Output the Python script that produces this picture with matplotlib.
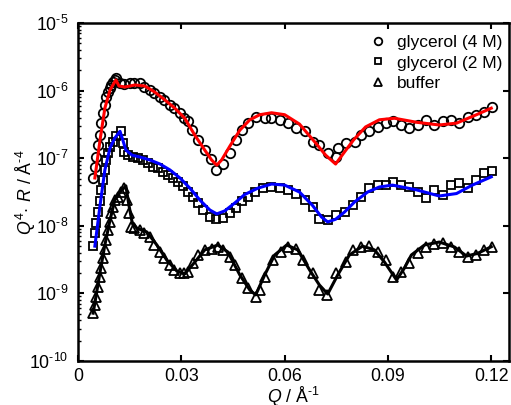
import matplotlib
matplotlib.use("Agg")
import matplotlib.pyplot as plt
import numpy as np
from matplotlib.ticker import LogLocator, NullFormatter, FixedLocator, FuncFormatter

plt.rcParams['font.family'] = 'Liberation Sans'
plt.rcParams['mathtext.fontset'] = 'custom'
plt.rcParams['mathtext.rm'] = 'Liberation Sans'
plt.rcParams['mathtext.it'] = 'Liberation Sans:italic'
plt.rcParams['mathtext.bf'] = 'Liberation Sans:bold'

# reflectivity data, Q^4 * R  (Q in 1/A)
q4 = [0.0044, 0.0048, 0.0053, 0.0058, 0.0063, 0.0068, 0.0073, 0.0077, 0.0082, 0.0087,
      0.0092, 0.0097, 0.0101, 0.0106, 0.0111, 0.0121, 0.0135, 0.0150, 0.0164, 0.0179,
      0.0193, 0.0208, 0.0222, 0.0237, 0.0251, 0.0266, 0.0280, 0.0295, 0.0307, 0.0320,
      0.0330, 0.0349, 0.0368, 0.0385, 0.0402, 0.0421, 0.0441, 0.0460, 0.0475, 0.0494,
      0.0518, 0.0542, 0.0561, 0.0586, 0.0610, 0.0634, 0.0658, 0.0682, 0.0701, 0.0726,
      0.0750, 0.0755, 0.0779, 0.0803, 0.0822, 0.0846, 0.0870, 0.0895, 0.0914, 0.0938,
      0.0962, 0.0986, 0.1011, 0.1035, 0.1059, 0.1083, 0.1107, 0.1131, 0.1156, 0.1180,
      0.1202]
r4 = [5.1e-8, 7.5e-8, 1.05e-7, 1.57e-7, 2.2e-7, 3.3e-7, 4.7e-7, 6.1e-7, 8.1e-7, 9.5e-7,
      1.09e-6, 1.22e-6, 1.35e-6, 1.45e-6, 1.52e-6, 1.28e-6, 1.25e-6, 1.28e-6, 1.31e-6, 1.28e-6,
      1.14e-6, 1.02e-6, 9.1e-7, 8.1e-7, 7.3e-7, 6.1e-7, 5.5e-7, 4.7e-7, 4.0e-7, 3.5e-7,
      2.6e-7, 1.86e-7, 1.32e-7, 9.6e-8, 6.7e-8, 8.2e-8, 1.18e-7, 1.86e-7, 2.6e-7, 3.3e-7,
      4.1e-7, 4.0e-7, 4.0e-7, 3.7e-7, 3.3e-7, 2.8e-7, 2.5e-7, 1.75e-7, 1.57e-7, 1.18e-7,
      1.05e-7, 1.4e-7, 1.66e-7, 1.75e-7, 2.2e-7, 2.5e-7, 2.9e-7, 3.3e-7, 3.5e-7, 3.1e-7,
      2.8e-7, 3.1e-7, 3.7e-7, 3.1e-7, 3.5e-7, 3.7e-7, 3.3e-7, 4.1e-7, 4.4e-7, 4.9e-7,
      5.8e-7]

q2 = [0.0044, 0.0048, 0.0053, 0.0058, 0.0063, 0.0068, 0.0073, 0.0077, 0.0082, 0.0087,
      0.0092, 0.0101, 0.0111, 0.0124, 0.0130, 0.0135, 0.0145, 0.0159, 0.0174, 0.0188,
      0.0203, 0.0217, 0.0232, 0.0246, 0.0261, 0.0275, 0.0290, 0.0304, 0.0320, 0.0334,
      0.0349, 0.0363, 0.0383, 0.0402, 0.0421, 0.0441, 0.0460, 0.0475, 0.0494, 0.0513,
      0.0537, 0.0561, 0.0586, 0.0610, 0.0634, 0.0658, 0.0682, 0.0701, 0.0726, 0.0750,
      0.0774, 0.0798, 0.0822, 0.0846, 0.0870, 0.0895, 0.0914, 0.0938, 0.0962, 0.0986,
      0.1011, 0.1035, 0.1059, 0.1083, 0.1107, 0.1131, 0.1156, 0.1180, 0.1202]
r2 = [5.0e-9, 7.7e-9, 1.09e-8, 1.62e-8, 2.3e-8, 3.4e-8, 4.8e-8, 6.7e-8, 9.4e-8, 1.18e-7,
      1.48e-7, 1.75e-7, 2.1e-7, 2.5e-7, 1.66e-7, 1.25e-7, 1.11e-7, 1.05e-7, 1.0e-7, 9.4e-8,
      8.4e-8, 7.5e-8, 7.1e-8, 6.3e-8, 5.6e-8, 5.1e-8, 4.5e-8, 3.9e-8, 3.2e-8, 2.7e-8,
      2.15e-8, 1.71e-8, 1.36e-8, 1.25e-8, 1.29e-8, 1.53e-8, 1.82e-8, 2.3e-8, 2.7e-8, 3.2e-8,
      3.6e-8, 3.7e-8, 3.6e-8, 3.4e-8, 3.0e-8, 2.4e-8, 1.92e-8, 1.25e-8, 1.22e-8, 1.45e-8,
      1.62e-8, 2.0e-8, 2.7e-8, 3.6e-8, 4.0e-8, 4.0e-8, 4.5e-8, 4.0e-8, 3.8e-8, 3.2e-8,
      2.55e-8, 3.4e-8, 2.9e-8, 4.0e-8, 4.3e-8, 3.6e-8, 4.8e-8, 6.0e-8, 6.5e-8]

qb = [0.0044, 0.0048, 0.0053, 0.0058, 0.0063, 0.0068, 0.0073, 0.0077, 0.0082, 0.0087,
      0.0092, 0.0097, 0.0101, 0.0106, 0.0116, 0.0126, 0.0135, 0.0143, 0.0147, 0.0153,
      0.0164, 0.0179, 0.0193, 0.0208, 0.0222, 0.0237, 0.0251, 0.0266, 0.0280, 0.0295,
      0.0309, 0.0320, 0.0334, 0.0349, 0.0368, 0.0388, 0.0407, 0.0421, 0.0441, 0.0455,
      0.0475, 0.0494, 0.0518, 0.0528, 0.0542, 0.0566, 0.0590, 0.0610, 0.0634, 0.0653,
      0.0682, 0.0701, 0.0723, 0.0750, 0.0779, 0.0798, 0.0822, 0.0846, 0.0870, 0.0895,
      0.0914, 0.0938, 0.0962, 0.0986, 0.1011, 0.1035, 0.1059, 0.1083, 0.1107, 0.1131,
      0.1156, 0.1180, 0.1202]
rb = [5.1e-10, 6.7e-10, 8.9e-10, 1.26e-9, 1.77e-9, 2.35e-9, 3.3e-9, 4.6e-9, 6.2e-9, 8.7e-9,
      1.15e-8, 1.53e-8, 1.92e-8, 2.4e-8, 2.7e-8, 3.2e-8, 3.6e-8, 2.4e-8, 1.53e-8, 9.7e-9,
      9.2e-9, 8.7e-9, 7.7e-9, 6.9e-9, 5.2e-9, 4.1e-9, 3.3e-9, 2.63e-9, 2.2e-9, 1.98e-9,
      1.98e-9, 2.1e-9, 2.8e-9, 3.7e-9, 4.4e-9, 4.6e-9, 4.9e-9, 4.4e-9, 3.5e-9, 2.63e-9,
      1.67e-9, 1.19e-9, 8.8e-10, 1.12e-9, 1.77e-9, 3.1e-9, 4.1e-9, 4.9e-9, 4.6e-9, 3.1e-9,
      1.98e-9, 1.12e-9, 9.5e-10, 1.98e-9, 2.9e-9, 4.4e-9, 4.9e-9, 5.0e-9, 4.1e-9, 3.1e-9,
      1.77e-9, 2.1e-9, 2.8e-9, 3.9e-9, 4.9e-9, 5.3e-9, 5.5e-9, 4.9e-9, 4.1e-9, 3.5e-9,
      3.7e-9, 4.4e-9, 4.9e-9]

# model curves
q4_fit = [0.0049, 0.0064, 0.0078, 0.0093, 0.0110, 0.0119, 0.0136, 0.0165, 0.0194, 0.0223,
          0.0252, 0.0281, 0.0310, 0.0339, 0.0368, 0.0388, 0.0403, 0.0417, 0.0441, 0.0470,
          0.0499, 0.0528, 0.0562, 0.0600, 0.0643, 0.0690, 0.0719, 0.0748, 0.0774, 0.0800,
          0.0835, 0.0875, 0.0919, 0.0983, 0.1049, 0.1099, 0.1157, 0.1200]
r4_fit = [5.1e-8, 1.86e-7, 5.5e-7, 1.02e-6, 1.44e-6, 1.17e-6, 1.13e-6, 1.21e-6, 1.17e-6, 9.5e-7,
          7.3e-7, 5.5e-7, 3.9e-7, 2.2e-7, 1.32e-7, 9.4e-8, 7.9e-8, 9.4e-8, 1.51e-7, 2.6e-7,
          3.7e-7, 4.4e-7, 4.7e-7, 4.4e-7, 3.2e-7, 1.68e-7, 1.11e-7, 8.2e-8, 1.24e-7, 1.86e-7,
          2.9e-7, 3.7e-7, 3.9e-7, 3.4e-7, 3.1e-7, 3.3e-7, 4.4e-7, 5.5e-7]

q2_fit = [0.0049, 0.0064, 0.0078, 0.0093, 0.0107, 0.0122, 0.0130, 0.0139, 0.0157, 0.0180,
          0.0209, 0.0238, 0.0267, 0.0296, 0.0325, 0.0354, 0.0383, 0.0403, 0.0426, 0.0455,
          0.0484, 0.0522, 0.0562, 0.0600, 0.0643, 0.0681, 0.0707, 0.0725, 0.0748, 0.0774,
          0.0803, 0.0841, 0.0875, 0.0913, 0.0983, 0.1049, 0.1099, 0.1145, 0.1200]
r2_fit = [5.0e-9, 2.0e-8, 6.7e-8, 1.42e-7, 1.99e-7, 2.5e-7, 1.86e-7, 1.32e-7, 1.11e-7, 1.04e-7,
          9.4e-8, 8.2e-8, 6.7e-8, 5.1e-8, 3.6e-8, 2.4e-8, 1.71e-8, 1.5e-8, 1.66e-8, 2.17e-8,
          2.9e-8, 3.6e-8, 4.15e-8, 4.0e-8, 3.16e-8, 2.0e-8, 1.35e-8, 1.14e-8, 1.25e-8, 1.6e-8,
          2.25e-8, 3.16e-8, 3.75e-8, 4.0e-8, 3.4e-8, 2.76e-8, 3.0e-8, 4.0e-8, 5.3e-8]

qb_fit = [0.0044, 0.0064, 0.0078, 0.0093, 0.0107, 0.0122, 0.0139, 0.0148, 0.0157, 0.0171,
          0.0200, 0.0229, 0.0258, 0.0287, 0.0310, 0.0339, 0.0368, 0.0406, 0.0435, 0.0470,
          0.0499, 0.0516, 0.0542, 0.0571, 0.0606, 0.0638, 0.0673, 0.0701, 0.0725, 0.0754,
          0.0788, 0.0826, 0.0861, 0.0890, 0.0925, 0.0948, 0.0968, 0.1006, 0.1049, 0.1093,
          0.1128, 0.1160, 0.1200]
rb_fit = [5.1e-10, 2.07e-9, 5.2e-9, 1.22e-8, 2.4e-8, 3.16e-8, 3.9e-8, 2.0e-8, 1.14e-8, 9.2e-9,
          8.1e-9, 5.2e-9, 3.1e-9, 2.14e-9, 1.94e-9, 2.9e-9, 4.4e-9, 5.2e-9, 4.1e-9, 1.87e-9,
          1.12e-9, 9.5e-10, 1.87e-9, 3.7e-9, 5.2e-9, 4.4e-9, 2.2e-9, 1.33e-9, 9.8e-10, 1.87e-9,
          3.7e-9, 5.0e-9, 4.4e-9, 2.9e-9, 1.58e-9, 2.38e-9, 3.7e-9, 5.2e-9, 5.75e-9, 4.86e-9,
          3.57e-9, 3.9e-9, 4.9e-9]

labels = ["glycerol (4 M)", "glycerol (2 M)", "buffer"]
x_ticks = [0, 0.03, 0.06, 0.09, 0.12]
x_ticklabels = ["0", "0.03", "0.06", "0.09", "0.12"]

HYPHEN = "\u2010"  # short dash for the exponents


def decade_label(v, pos):
    e = int(round(np.log10(v)))
    sign = HYPHEN if e < 0 else ""
    return r"$10^{%s%d}$" % (sign, abs(e))


def main():
    fig = plt.figure(figsize=(5.11, 4.05), dpi=100)
    ax = fig.add_axes([78 / 511, 1 - 361 / 405, 430.5 / 511, 338 / 405])

    mk = dict(linestyle="none", markerfacecolor="none", markeredgecolor="black",
              markersize=6.8, markeredgewidth=1.3)
    ax.plot(q4, r4, marker="o", label=labels[0], **mk)
    ax.plot(q2, r2, marker="s", label=labels[1], **dict(mk, markersize=6.2))
    ax.plot(qb, rb, marker="^", label=labels[2], **mk)

    # fitted curves sit on top of the points
    ax.plot(q4_fit, r4_fit, color="#ff0000", lw=2.2)
    ax.plot(q2_fit, r2_fit, color="#0000ff", lw=2.2)
    ax.plot(qb_fit, rb_fit, color="black", lw=2.2)

    ax.set_yscale("log")
    ax.set_xlim(0, 0.125)
    ax.set_ylim(1e-10, 1e-5)

    ax.xaxis.set_major_locator(FixedLocator(x_ticks))
    ax.set_xticklabels(x_ticklabels)
    ax.yaxis.set_major_locator(LogLocator(base=10, numticks=10))
    ax.yaxis.set_major_formatter(FuncFormatter(decade_label))
    ax.yaxis.set_minor_locator(LogLocator(base=10, subs=range(2, 10), numticks=10))
    ax.yaxis.set_minor_formatter(NullFormatter())

    ax.tick_params(which="major", direction="in", length=4, width=1.5,
                   top=True, right=True, labelsize=12.8, pad=5)
    ax.tick_params(axis="y", which="major", pad=7)
    ax.tick_params(which="minor", direction="in", length=2, width=1.0,
                   left=True, right=False)
    for s in ax.spines.values():
        s.set_linewidth(1.8)

    ax.set_xlabel(r"$Q$ / Å$^{%s1}$" % HYPHEN, fontsize=12.8, labelpad=0)
    ax.set_ylabel(r"$Q^4\!\cdot\,R$ / Å$^{%s4}$" % HYPHEN, fontsize=12.8)
    ax.yaxis.set_label_coords(-0.092, 0.5)

    ax.legend(loc="upper right", bbox_to_anchor=(1.002, 0.985), frameon=False,
              fontsize=12.5, handlelength=1.0, handletextpad=0.6, labelspacing=0.3,
              borderaxespad=0, markerscale=0.8)

    fig.savefig("out.png", dpi=100)


if __name__ == '__main__':
    main()
